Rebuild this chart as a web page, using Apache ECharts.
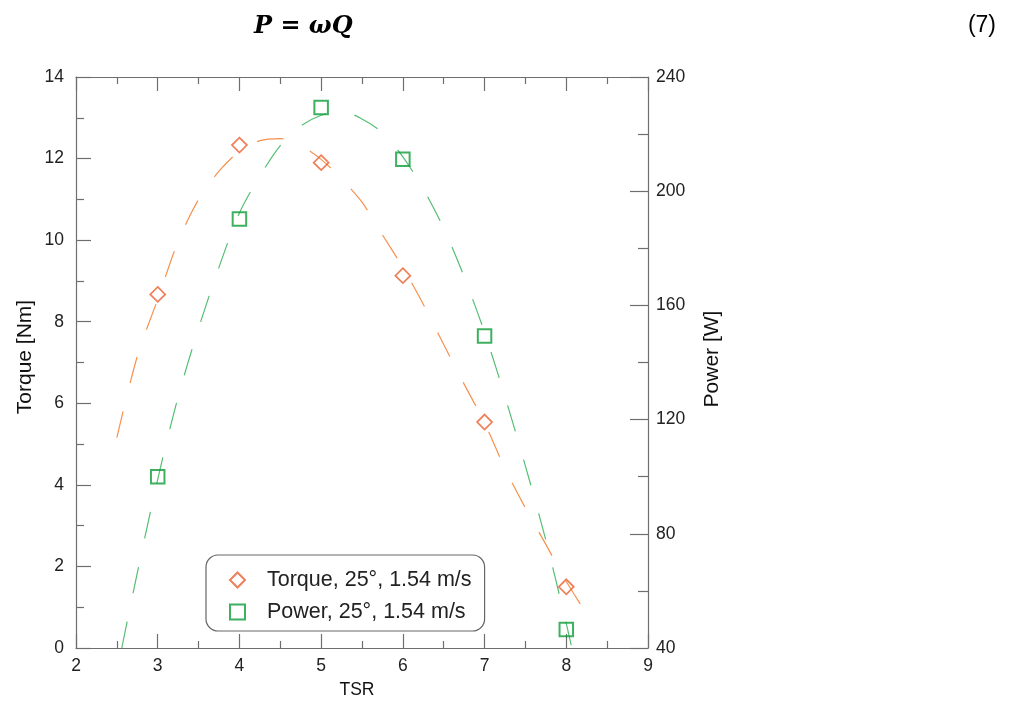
<!DOCTYPE html>
<html>
<head>
<meta charset="utf-8">
<script src="https://cdn.jsdelivr.net/npm/echarts@6/dist/echarts.min.js"></script>
<style>
html,body{margin:0;padding:0;background:#fff;}
#chart{width:1011px;height:702px;}
</style>
</head>
<body>
<div id="chart"></div>
<script>
// measured data points
const tsr = [3, 4, 5, 6, 7, 8];
const torque = [8.67, 12.33, 11.90, 9.13, 5.54, 1.50];
const power = [100.0, 190.3, 229.3, 211.2, 149.3, 46.5];

// fitted (dashed) curves
const torqueFitX = [2.5, 2.75, 3, 3.25, 3.5, 3.75, 4, 4.25, 4.5, 4.75, 5, 5.25, 5.5, 5.75, 6, 6.25, 6.5, 6.75, 7, 7.25, 7.5, 7.75, 8, 8.25, 8.32];
const torqueFitY = [5.16, 7.15, 8.55, 9.97, 11.0, 11.69, 12.18, 12.44, 12.49, 12.32, 11.98, 11.5, 10.93, 10.13, 9.33, 8.43, 7.44, 6.47, 5.52, 4.40, 3.43, 2.54, 1.63, 0.83, 0.6];
const powerFitX = [2.56, 2.75, 3, 3.25, 3.5, 3.75, 4, 4.25, 4.5, 4.75, 5, 5.25, 5.5, 5.75, 6, 6.25, 6.5, 6.75, 7, 7.25, 7.5, 7.75, 8, 8.06];
const powerFitY = [40, 66.3, 99.1, 128, 152, 173.4, 192.4, 205.3, 216, 222.8, 226.6, 228, 225.3, 220.5, 212, 200.8, 187, 170, 150.5, 128, 103.7, 77.8, 48.5, 41];

const seriesNames = ['Torque, 25°, 1.54 m/s', 'Power, 25°, 1.54 m/s'];
const xName = 'TSR', yLeftName = 'Torque [Nm]', yRightName = 'Power [W]';

const zip = (a, b) => a.map((v, i) => [v, b[i]]);

const ORANGE_M = '#EA5F30', ORANGE_L = '#F7914E';
const GREEN_M = '#0E9C38', GREEN_L = '#55BE73';
const AX = '#6e6e6e';
const FONT = 'Liberation Sans, Arial, sans-serif';

const chart = echarts.init(document.getElementById('chart'));

const xBase = {
  type: 'value', min: 2, max: 9, interval: 1,
  axisLine: {show: true, lineStyle: {color: AX, width: 1.2}},
  axisTick: {show: true, inside: true, length: 14, lineStyle: {color: AX, width: 1.2}},
  minorTick: {show: true, splitNumber: 2, length: 7, lineStyle: {color: AX, width: 1.2}},
  splitLine: {show: false}, minorSplitLine: {show: false}
};

chart.setOption({
  animation: false,
  backgroundColor: '#fff',
  grid: {left: 76, right: 363, top: 77, bottom: 54, containLabel: false},
  xAxis: [
    Object.assign({}, xBase, {position: 'bottom',
      axisLabel: {fontSize: 17.5, color: '#222', fontFamily: FONT, margin: 9}}),
    Object.assign({}, xBase, {position: 'top', axisLabel: {show: false}})
  ],
  yAxis: [
    {
      type: 'value', min: 0, max: 14, interval: 2, position: 'left',
      axisLine: {show: true, lineStyle: {color: AX, width: 1.2}},
      axisTick: {show: true, inside: true, length: 15, lineStyle: {color: AX, width: 1.2}},
      minorTick: {show: true, splitNumber: 2, length: 8, lineStyle: {color: AX, width: 1.2}},
      splitLine: {show: false},
      axisLabel: {fontSize: 17.5, color: '#222', fontFamily: FONT, margin: 12}
    },
    {
      type: 'value', min: 40, max: 240, interval: 40, position: 'right',
      axisLine: {show: true, lineStyle: {color: AX, width: 1.2}},
      axisTick: {show: true, inside: true, length: 18, lineStyle: {color: AX, width: 1.2}},
      minorTick: {show: true, splitNumber: 2, length: 10, lineStyle: {color: AX, width: 1.2}},
      splitLine: {show: false},
      axisLabel: {fontSize: 17.5, color: '#222', fontFamily: FONT, margin: 8}
    }
  ],
  legend: {
    data: seriesNames,
    orient: 'vertical',
    left: 206, top: 555,
    padding: [14, 13, 8, 23],
    itemGap: 10,
    itemWidth: 15, itemHeight: 15,
    borderColor: '#666', borderWidth: 1.2, borderRadius: 12,
    backgroundColor: '#fff',
    textStyle: {fontSize: 21.5, lineHeight: 20, color: '#222', fontFamily: FONT, padding: [0, 0, 0, 17]}
  },
  graphic: [
    {type: 'text', x: 25, y: 357, rotation: Math.PI / 2,
     style: {text: yLeftName, fontSize: 21, fontFamily: FONT, fill: '#111', align: 'center', verticalAlign: 'middle'}},
    {type: 'text', x: 712, y: 359, rotation: Math.PI / 2,
     style: {text: yRightName, fontSize: 21, fontFamily: FONT, fill: '#111', align: 'center', verticalAlign: 'middle'}},
    {type: 'text', x: 357, y: 690,
     style: {text: xName, fontSize: 17.5, fontFamily: FONT, fill: '#111', align: 'center', verticalAlign: 'middle'}},
    {type: 'text', x: 254, y: 27,
     style: {text: 'P = ωQ', fontSize: 24, fontStyle: 'italic', fontWeight: 'bold', fontFamily: 'DejaVu Serif, serif', fill: '#000', align: 'left', verticalAlign: 'middle'}},
    {type: 'text', x: 996, y: 26,
     style: {text: '(7)', fontSize: 23, fontFamily: FONT, fill: '#000', align: 'right', verticalAlign: 'middle'}}
  ],
  series: [
    {
      name: 'torqueFit', type: 'line', xAxisIndex: 0, yAxisIndex: 0,
      data: zip(torqueFitX, torqueFitY), showSymbol: false, smooth: 0.3, silent: true,
      lineStyle: {color: ORANGE_L, width: 1.2, type: [27, 29]}, z: 2
    },
    {
      name: 'powerFit', type: 'line', xAxisIndex: 0, yAxisIndex: 1,
      data: zip(powerFitX, powerFitY), showSymbol: false, smooth: 0.3, silent: true,
      lineStyle: {color: GREEN_L, width: 1.2, type: [27, 29]}, z: 2
    },
    {
      name: seriesNames[0], type: 'scatter', xAxisIndex: 0, yAxisIndex: 0,
      data: zip(tsr, torque), symbol: 'diamond', symbolSize: 15,
      itemStyle: {color: 'rgba(255,255,255,0)', borderColor: ORANGE_M, borderWidth: 1.7}, z: 3
    },
    {
      name: seriesNames[1], type: 'scatter', xAxisIndex: 0, yAxisIndex: 1,
      data: zip(tsr, power), symbol: 'rect', symbolSize: 13.5,
      itemStyle: {color: 'rgba(255,255,255,0)', borderColor: GREEN_M, borderWidth: 2}, z: 3
    }
  ]
});
</script>
</body>
</html>
